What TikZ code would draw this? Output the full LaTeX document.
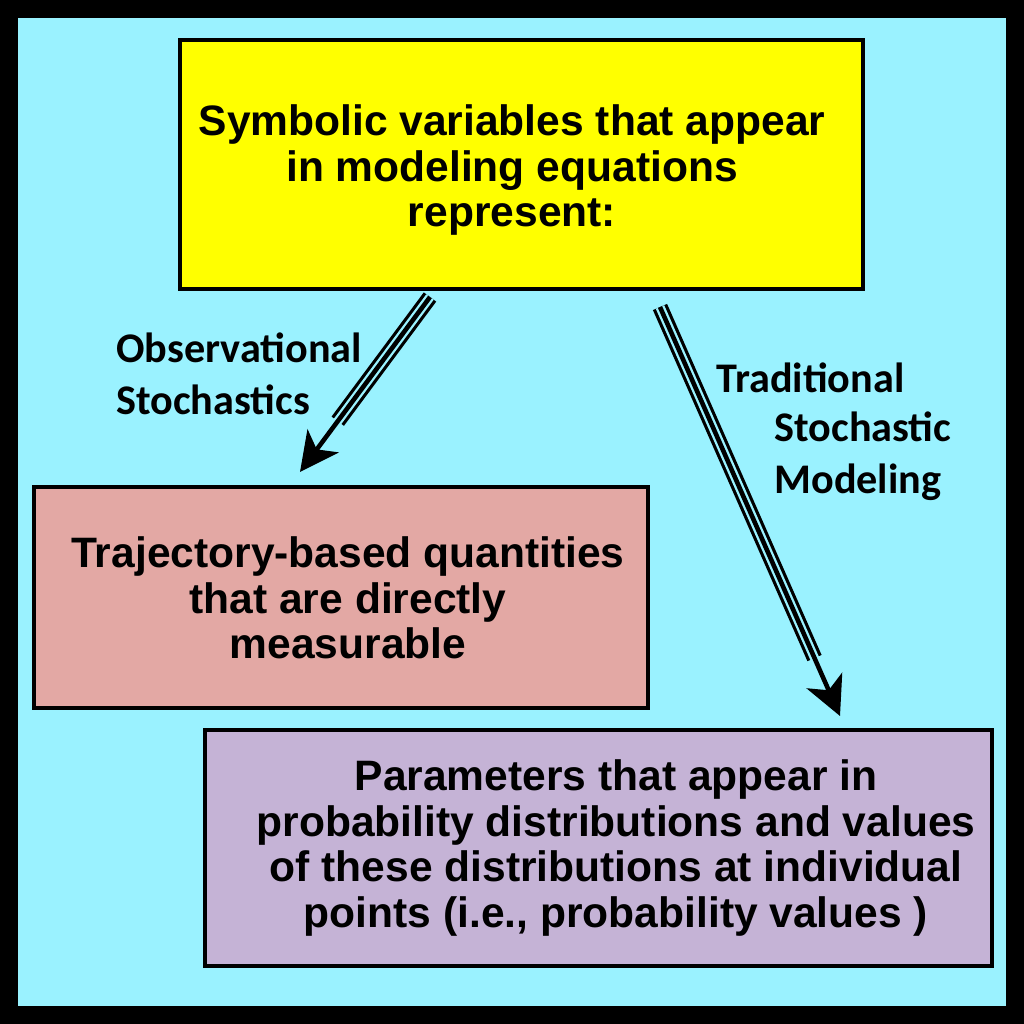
\documentclass[tikz,border=0pt]{standalone}
\usepackage{fontspec}
\setmainfont{Liberation Sans}
\newfontfamily\labelfont{Carlito}
\usetikzlibrary{arrows.meta}
\definecolor{skyfill}{HTML}{9AF2FF}
\definecolor{topfill}{HTML}{FFFF00}
\definecolor{trajfill}{HTML}{E3A8A4}
\definecolor{paramfill}{HTML}{C5B3D6}
\tikzset{
  box/.style={draw=black, line width=1.2pt, align=center, font=\bfseries\fontsize{12.1}{13}\selectfont},
  tag/.style={align=left, font=\labelfont\bfseries\fontsize{12}{14.8}\selectfont, anchor=west},
  shaftout/.style={line width=4.4pt, shorten >=18pt},
  shaftgap/.style={skyfill, line width=2.6pt, shorten >=17pt},
  shaftin/.style={line width=1.3pt, -{Stealth[length=11pt,width=11pt,inset=3pt]}}
}
\begin{document}
\begin{tikzpicture}[x=0.01cm,y=-0.01cm]
  \useasboundingbox (0,0) rectangle (1024,1024);
  \fill[black] (0,0) rectangle (1024,1024);
  \fill[skyfill] (18,18) rectangle (1006,1006);
  % boxes
  \draw[box, fill=topfill] (180,40) rectangle (863,289);
  \node[box, draw=none] (top) at (512,170) {Symbolic variables that appear\\in modeling equations\\represent:};
  \draw[box, fill=trajfill] (34,487) rectangle (648,708);
  \node[box, draw=none] (traj) at (348,598) {Trajectory-based quantities\\that are directly\\measurable};
  \draw[box, fill=paramfill] (205,730) rectangle (992,966);
  \node[box, draw=none] (param) at (616,848) {Parameters that appear in\\probability distributions and values\\of these distributions at individual\\points (i.e., probability values )};
  % arrows
  \coordinate (a1) at (430,297);
  \coordinate (b1) at (300,472);
  \coordinate (a2) at (660,307);
  \coordinate (b2) at (840,716);
  \foreach \s/\e in {a1/b1, a2/b2} {
    \draw[shaftout] (\s) -- (\e);
    \draw[shaftgap] (\s) -- (\e);
    \draw[shaftin] (\s) -- (\e);
  }
  % labels
  \node[tag] (obs) at (104,374) {Observational\\Stochastics};
  \node[tag] (trad) at (704,378) {Traditional};
  \node[tag] (tsm) at (762,456) {Stochastic\\Modeling};
\end{tikzpicture}
\end{document}
